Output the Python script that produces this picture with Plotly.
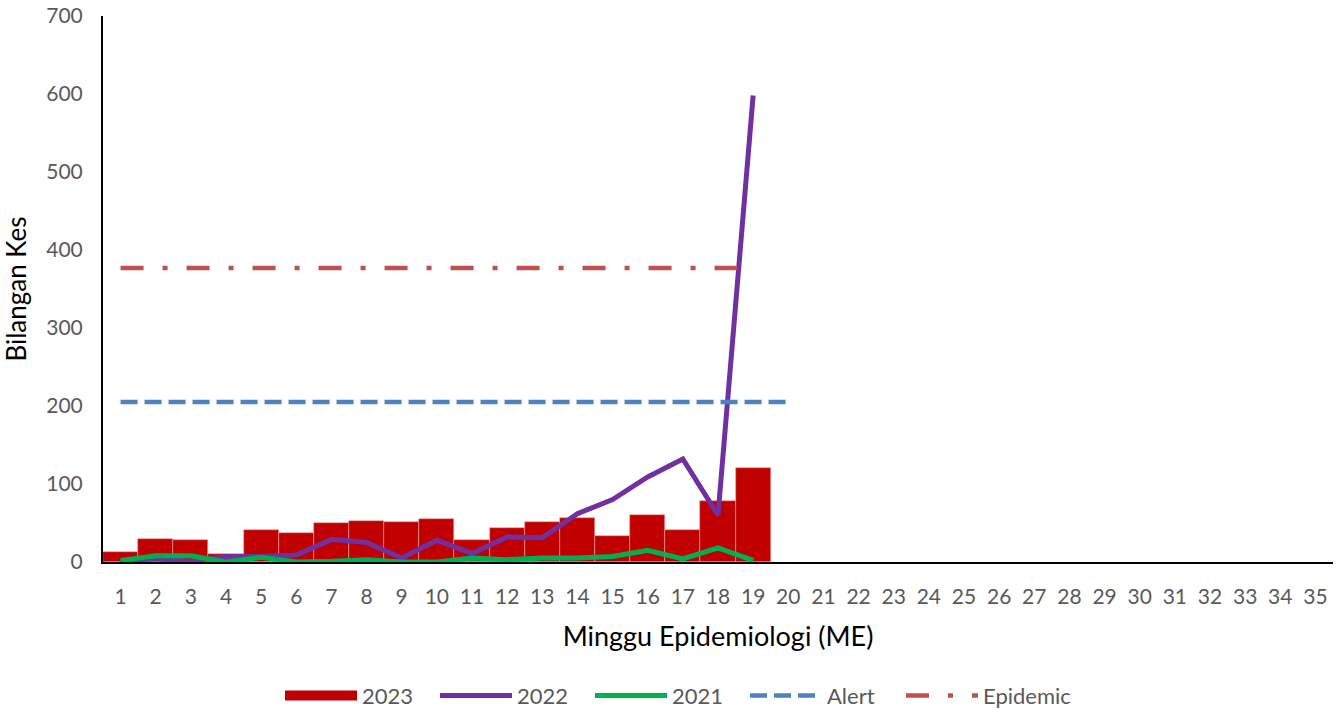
import plotly.graph_objects as go

weeks = list(range(1, 36))
bar_weeks = list(range(1, 20))
cases_2023 = [13, 30, 28, 10, 41, 37, 50, 52, 51, 55, 28, 44, 51, 57, 33, 60, 41, 78, 120]
cases_2022 = [2, 4, 1, 7, 7, 9, 29, 25, 5, 28, 11, 32, 31, 62, 80, 109, 132, 60, 598]
cases_2021 = [2, 8, 8, 0, 6, 0, 1, 3, 0, 0, 5, 3, 5, 5, 7, 15, 4, 18, 2]
alert_weeks = list(range(1, 21))
alert_value = [205] * 20
epidemic_weeks = list(range(1, 20))
epidemic_value = [377] * 19

FONT = "Lato"
GRAY = "#595959"

fig = go.Figure()
fig.add_trace(go.Bar(x=bar_weeks, y=cases_2023, name="2023", width=1, showlegend=False,
                     legendgroup="2023",
                     marker=dict(color="#C00000", line=dict(color="#E8A0A0", width=0.6))))
# legend entry for the bar series (wide filled rectangle like the original)
fig.add_trace(go.Scatter(x=[None], y=[None], name="2023", mode="lines", legendgroup="2023",
                         line=dict(color="#C00000", width=14)))
fig.add_trace(go.Scatter(x=bar_weeks, y=cases_2022, name="2022", mode="lines",
                         line=dict(color="#7030A0", width=5)))
fig.add_trace(go.Scatter(x=bar_weeks, y=cases_2021, name="2021", mode="lines",
                         line=dict(color="#00B050", width=5)))
fig.add_trace(go.Scatter(x=alert_weeks, y=alert_value, name="Alert", mode="lines",
                         line=dict(color="#4F81BD", width=4.5, dash="17px,7px")))
fig.add_trace(go.Scatter(x=epidemic_weeks, y=epidemic_value, name="Epidemic", mode="lines",
                         legend="legend2",
                         line=dict(color="#C0504D", width=4.5, dash="23px,19px,5px,19px")))

legend_common = dict(orientation="h", xanchor="left", y=-0.245, yanchor="middle",
                     font=dict(size=22, color=GRAY), traceorder="normal",
                     itemwidth=72, tracegroupgap=0, bgcolor="rgba(0,0,0,0)")

fig.update_layout(
    width=1342, height=712,
    margin=dict(l=103, r=9, t=16, b=150, autoexpand=False),
    plot_bgcolor="white", paper_bgcolor="white",
    font=dict(family=FONT, size=21, color=GRAY),
    bargap=0,
    showlegend=True,
    legend=dict(x=(280 - 103) / 1230, entrywidth=68, entrywidthmode="pixels", **legend_common),
    legend2=dict(x=(901 - 103) / 1230, **legend_common),
    xaxis=dict(range=[0.5, 35.5], tickmode="array", tickvals=weeks,
               ticktext=[str(w) for w in weeks], showgrid=False, zeroline=False,
               showline=True, linecolor="black", linewidth=2, ticks="",
               automargin=False, ticklabelstandoff=15,
               title=dict(text="Minggu Epidemiologi (ME)", font=dict(size=27, color="black"),
                          standoff=20)),
    yaxis=dict(range=[0, 700], dtick=100, showgrid=False, zeroline=False,
               showline=True, linecolor="black", linewidth=2, ticks="",
               automargin=False, ticklabelstandoff=14,
               title=dict(text="Bilangan Kes", font=dict(size=26, color="black"), standoff=14)),
)

fig.write_html("out.html", config={"displayModeBar": False},
               post_script="document.body.style.margin='0';document.body.style.padding='0';")
